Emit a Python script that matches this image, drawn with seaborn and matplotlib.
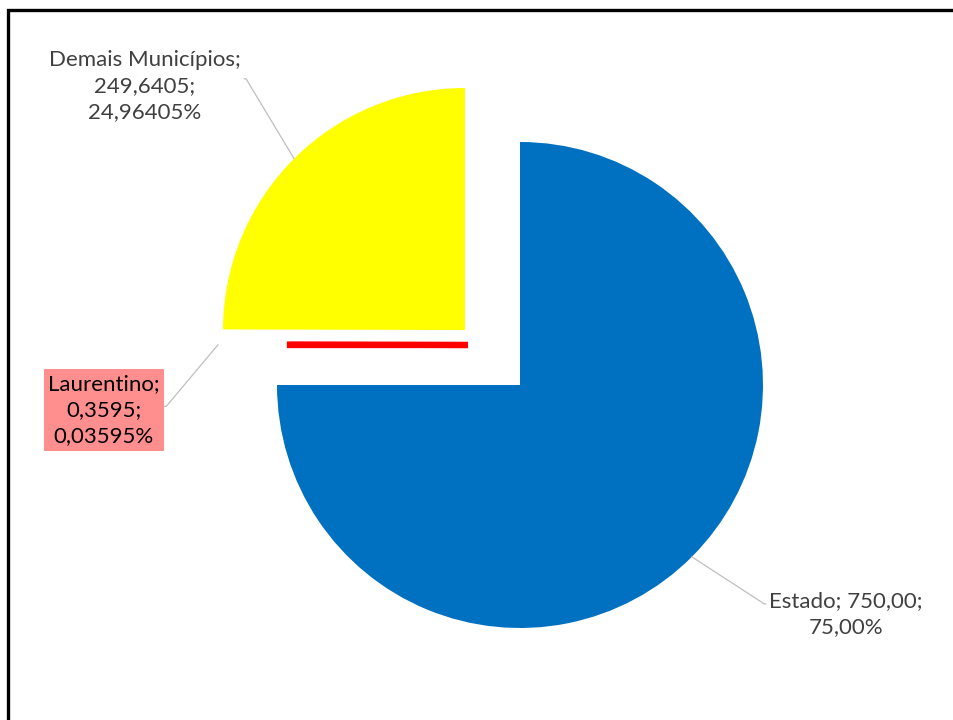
import numpy as np
import matplotlib
matplotlib.use("Agg")
import matplotlib.pyplot as plt
import seaborn as sns
from matplotlib.patches import Rectangle

# Data
categories = ["Estado", "Laurentino", "Demais Municípios"]
values = [750.00, 0.3595, 249.6405]
value_labels = ["750,00", "0,3595", "249,6405"]
pct_labels = ["75,00%", "0,03595%", "24,96405%"]
colors = ["#0070C0", "#FF0000", "#FFFF00"]

sns.set_theme(style="white")
plt.rcParams['font.family'] = ['Lato', 'DejaVu Sans']

fig = plt.figure(figsize=(9.54, 7.2), dpi=100)
ax = fig.add_axes([0, 0, 1, 1])

# pie in pixel-like units, Excel style: start at 12 o'clock, clockwise
wedges, _ = ax.pie(values, colors=colors, startangle=90, counterclock=False,
                   center=(520, 335), radius=243,
                   wedgeprops=dict(linewidth=0), frame=True)
ax.set_xlim(0, 954)
ax.set_ylim(0, 720)
ax.set_aspect('equal')
ax.axis('off')

# exploded slices (Excel-like offsets)
wedges[2].set_center((465, 390))
wedges[2].set_radius(242)
wedges[1].set_center((468, 375))
wedges[1].set_radius(178)
wedges[1].set_edgecolor("#FF0000")
wedges[1].set_linewidth(4.5)


def edge_point(w, extra=0):
    ang = np.deg2rad((w.theta1 + w.theta2) / 2)
    cx, cy = w.center
    r = w.r + extra
    return cx + r * np.cos(ang), cy + r * np.sin(ang)


lbl = [f"{c};\n{v};\n{p}" for c, v, p in zip(categories, value_labels, pct_labels)]
lbl[0] = f"{categories[0]}; {value_labels[0]};\n{pct_labels[0]}"

line_kw = dict(arrowstyle='-', color='#BFBFBF', lw=0.9, shrinkA=0, shrinkB=0)

# Estado
ax.annotate(lbl[0], xy=edge_point(wedges[0]), xytext=(846, 106),
            ha='center', va='center', fontsize=16, color='#404040',
            linespacing=1.38,
            arrowprops=dict(**line_kw, relpos=(0, 0.72),
                            connectionstyle="angle,angleA=0,angleB=-33,rad=0"))

# Laurentino
ax.annotate(lbl[1], xy=edge_point(wedges[1], extra=72), xytext=(104, 310),
            ha='center', va='center', fontsize=16, color='black',
            linespacing=1.38,
            bbox=dict(boxstyle='square,pad=0.2', fc='#FF8F8F', ec='none'),
            arrowprops=dict(**line_kw, relpos=(1, 0.55),
                            connectionstyle="angle,angleA=0,angleB=50,rad=0"))

# Demais Municípios
ax.annotate(lbl[2], xy=edge_point(wedges[2]), xytext=(145, 634),
            ha='center', va='center', fontsize=16, color='#404040',
            linespacing=1.38,
            arrowprops=dict(**line_kw, relpos=(1, 0.6),
                            connectionstyle="angle,angleA=0,angleB=121,rad=0"))

# outer frame
ax.add_patch(Rectangle((8, -30), 1000, 740, fill=False, lw=2.4,
                       edgecolor='black', clip_on=False))

fig.savefig("out.png", dpi=100)
